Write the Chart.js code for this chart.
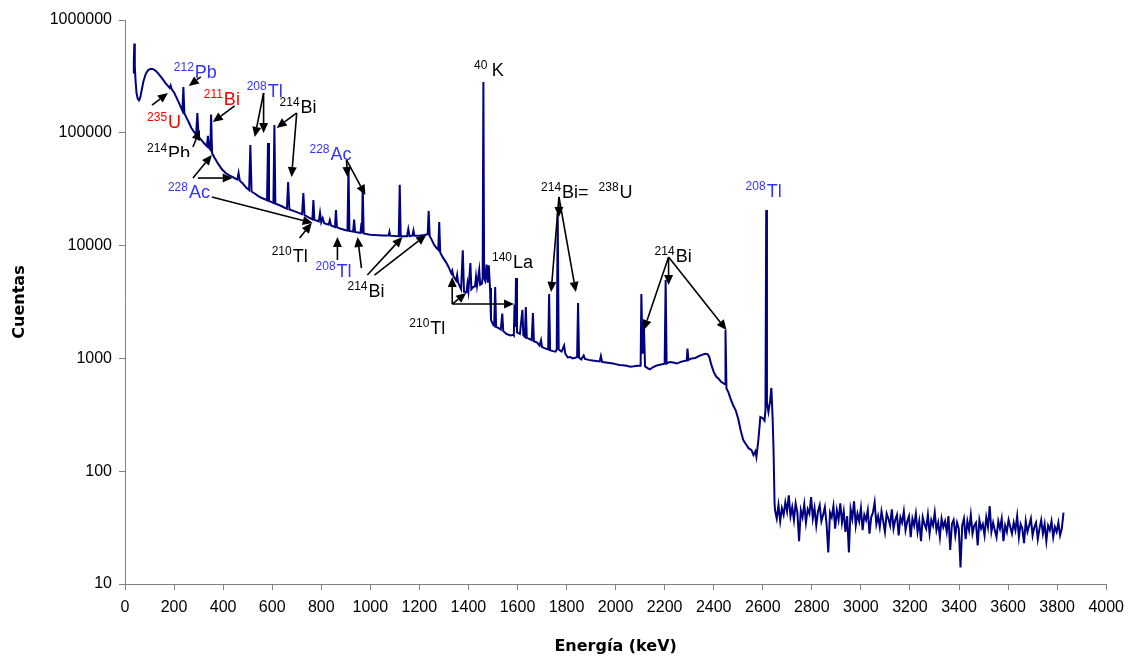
<!DOCTYPE html>
<html lang="es">
<head>
<meta charset="utf-8">
<title>Espectro gamma</title>
<script src="https://cdn.jsdelivr.net/npm/chart.js@4.4.1/dist/chart.umd.min.js"></script>
<style>
    html, body { margin: 0; padding: 0; background: #fff; }
    #espectro { display: block; }
</style>
</head>
<body>
<canvas id="espectro" width="1132" height="658"></canvas>
<script>
// --- Datos del espectro: [energía (keV), cuentas] ---
const tramoBajo = [
    [33, 340000], [36, 430000], [38, 620000], [40, 390000], [43, 290000], [47, 225000],
    [52, 200000], [57, 194000], [62, 205000], [68, 238000], [75, 285000], [85, 335000],
    [95, 360000], [105, 370000], [115, 367000], [125, 355000], [135, 336000], [145, 316000],
    [155, 296000], [165, 276000], [175, 261000], [182, 250000], [186, 262000], [190, 244000],
    [200, 228000], [210, 205000], [220, 184000], [228, 168000], [234, 157000], [238, 255000],
    [242, 149000], [250, 137000], [260, 124000], [270, 111000], [280, 103000], [290, 96000],
    [295, 150000], [300, 92000], [310, 87000], [320, 82000], [330, 77500], [334, 76000],
    [338, 94000], [342, 74000], [348, 71000], [351, 145000], [355, 66000], [365, 60000],
    [380, 53000], [395, 47500], [410, 44000], [425, 42000], [440, 40500], [452, 39000],
    [458, 38500], [463, 44000], [468, 37500], [480, 35500], [495, 32500], [506, 31000],
    [511, 78000], [516, 30200], [530, 28800], [545, 27300], [560, 26300], [575, 25500],
    [579, 25200], [583, 81000], [587, 24900], [600, 24200], [605, 23900], [609, 117000],
    [613, 23600], [630, 22800], [645, 22000], [660, 21200], [665, 36600], [670, 20900],
    [690, 20200], [705, 19600], [722, 19000], [727, 29300], [732, 18600], [750, 17700],
    [764, 17100], [768, 25400], [772, 16900], [786, 16500], [790, 16400], [795, 19500],
    [800, 16100], [806, 17500], [812, 15800], [830, 15300], [835, 16800], [840, 15100],
    [856, 14600], [860, 20700], [864, 14500], [880, 14100], [900, 13700], [907, 13600],
    [911, 49800], [915, 13500], [930, 13300], [934, 17000], [938, 13200], [955, 13000],
    [960, 12950], [964, 15900], [966, 12900], [969, 33700], [973, 12800], [990, 12600],
    [1000, 12500], [1020, 12400], [1050, 12300], [1075, 12300], [1078, 13200], [1081, 12250],
    [1100, 12150], [1116, 12100], [1120, 34700], [1124, 12100], [1150, 12100], [1155, 14000],
    [1160, 12100], [1172, 12300], [1176, 13600], [1180, 12200], [1200, 12200], [1220, 12400],
    [1234, 12600], [1238, 20300], [1242, 12200]
];

const tramoMedio = [
    [1250, 11300], [1260, 10200], [1270, 9500], [1277, 9200], [1281, 16200], [1285, 8700],
    [1295, 7900], [1309, 7100], [1320, 6400], [1330, 5700], [1334, 6000], [1338, 5400],
    [1350, 4900], [1354, 5500], [1358, 4700], [1370, 4100], [1377, 9100], [1382, 3900],
    [1392, 3850], [1396, 4600], [1400, 3950], [1408, 7000], [1412, 4100], [1420, 4300],
    [1427, 4350], [1431, 5300], [1435, 4400], [1444, 6100], [1448, 4500], [1455, 4600],
    [1458, 5200], [1461, 282000], [1464, 5200], [1468, 4900], [1474, 6800], [1478, 4700],
    [1483, 6700], [1488, 4200], [1492, 2200], [1500, 2000], [1505, 1950], [1509, 4300],
    [1513, 1900], [1525, 1850], [1532, 1800], [1538, 2500], [1542, 1750], [1555, 1650],
    [1570, 1600], [1583, 1620], [1585, 1600], [1588, 3000], [1591, 1900], [1594, 5160],
    [1598, 1700], [1610, 1650], [1620, 2700], [1624, 1600], [1630, 1550], [1634, 2850],
    [1638, 1520], [1650, 1480], [1658, 1450], [1663, 2530], [1667, 1420], [1680, 1380],
    [1690, 1300], [1696, 1450], [1700, 1260], [1715, 1220], [1725, 1200], [1729, 3720],
    [1733, 1180], [1745, 1160], [1755, 1150], [1760, 1200], [1764, 19500], [1768, 1200],
    [1780, 1150], [1790, 1300], [1795, 1100], [1805, 1020], [1815, 1030], [1825, 1000],
    [1838, 1020], [1843, 1030], [1847, 3100], [1851, 1020], [1860, 980], [1870, 1060],
    [1875, 990], [1890, 970], [1905, 960], [1920, 950], [1935, 940], [1940, 1050],
    [1945, 930], [1960, 920], [1975, 910], [1990, 900], [2000, 890], [2015, 875],
    [2030, 870], [2045, 860], [2060, 845], [2075, 850], [2090, 860], [2102, 860],
    [2105, 3720], [2110, 1100], [2115, 2100], [2120, 850], [2130, 820], [2140, 800],
    [2150, 830], [2165, 860], [2180, 880], [2195, 890], [2200, 900], [2204, 4960],
    [2208, 900], [2220, 930], [2235, 920], [2250, 900], [2265, 930], [2280, 950],
    [2290, 960], [2293, 1220], [2297, 970], [2310, 1000], [2325, 1010], [2340, 1050],
    [2355, 1080], [2365, 1100], [2375, 1090], [2382, 1030], [2390, 880], [2400, 760],
    [2410, 690], [2420, 660], [2430, 620], [2440, 600], [2446, 590], [2448, 1790],
    [2452, 540], [2460, 500], [2470, 430], [2480, 380], [2490, 345], [2500, 290],
    [2510, 230], [2520, 190], [2530, 175], [2542, 160], [2554, 154], [2562, 139],
    [2570, 150], [2574, 134], [2582, 189], [2590, 302], [2599, 296], [2607, 280],
    [2611, 350], [2614, 20700], [2617, 400], [2623, 335], [2630, 420], [2635, 547],
    [2640, 300], [2644, 150], [2648, 52]
];

// Fondo por encima de 2650 keV, un canal cada 7 keV
const colaInicio = 2650;
const colaPaso = 7;
const colaCuentas = [
    45, 38, 50, 36, 47, 41, 53, 44, 61, 40,
    48, 37, 52, 43, 24, 45, 39, 51, 35, 46,
    42, 59, 38, 47, 33, 44, 50, 36, 41, 48,
    34, 19, 43, 39, 49, 31, 45, 37, 52, 35,
    44, 29, 40, 19, 46, 38, 54, 33, 42, 36,
    47, 30, 41, 37, 45, 28, 39, 43, 53, 34,
    40, 32, 44, 36, 29, 42, 38, 33, 46, 31,
    37, 41, 27, 39, 35, 44, 30, 36, 40, 26,
    38, 33, 42, 29, 36, 24, 39, 34, 31, 41,
    28, 37, 33, 43, 30, 35, 26, 38, 32, 36,
    29, 40, 20, 34, 37, 27, 35, 31, 14, 33,
    38, 25, 36, 30, 41, 28, 33, 35, 22, 37,
    31, 34, 27, 39, 32, 49, 29, 35, 30, 26,
    36, 31, 38, 24, 33, 29, 37, 32, 28, 35,
    30, 40, 26, 34, 31, 23, 36, 29, 33, 38,
    27, 32, 35, 25, 31, 37, 28, 34, 24, 33,
    30, 36, 26, 32, 29, 35, 27, 31, 43
];

const ticksEnergia = [0, 200, 400, 600, 800, 1000, 1200, 1400, 1600, 1800, 2000,
    2200, 2400, 2600, 2800, 3000, 3200, 3400, 3600, 3800, 4000];
const ticksCuentas = [10, 100, 1000, 10000, 100000, 1000000];

// --- Identificación de picos ---
const AZUL = '#3333ff';
const ROJO = '#ff0000';
const NEGRO = '#000000';

// posición del texto en keV y log10(cuentas); '^' marca el número másico
const etiquetas = [
    { e: 199, log: 5.486, color: AZUL, partes: ['^212', 'Pb'] },
    { e: 90, log: 5.043, color: ROJO, partes: ['^235', 'U'] },
    { e: 321, log: 5.246, color: ROJO, partes: ['^211', 'Bi'] },
    { e: 496, log: 5.317, color: AZUL, partes: ['^208', 'Tl'] },
    { e: 630, log: 5.176, color: NEGRO, partes: ['^214', 'Bi'] },
    { e: 90, log: 4.768, color: NEGRO, partes: ['^214', 'Pb'], corte: 4.785 },
    { e: 175, log: 4.422, color: AZUL, partes: ['^228', 'Ac'] },
    { e: 752, log: 4.759, color: AZUL, partes: ['^228', 'Ac'] },
    { e: 598, log: 3.855, color: NEGRO, partes: ['^210', 'Tl'] },
    { e: 777, log: 3.722, color: AZUL, partes: ['^208', 'Tl'] },
    { e: 907, log: 3.544, color: NEGRO, partes: ['^214', 'Bi'] },
    { e: 1423, log: 5.504, color: NEGRO, partes: ['^40 ', 'K'] },
    { e: 1496, log: 3.801, color: NEGRO, partes: ['^140', 'La'] },
    { e: 1159, log: 3.216, color: NEGRO, partes: ['^210', 'Tl'] },
    { e: 1696, log: 4.422, color: NEGRO, partes: ['^214', 'Bi=  ', '^238', 'U'] },
    { e: 2159, log: 3.855, color: NEGRO, partes: ['^214', 'Bi'] },
    { e: 2530, log: 4.431, color: AZUL, partes: ['^208', 'Tl'] }
];

// flechas: [keV origen, log origen, keV punta, log punta]
const flechas = [
    [309, 5.495, 260, 5.415],
    [110, 5.246, 175, 5.353],
    [447, 5.238, 358, 5.096],
    [565, 5.353, 529, 4.963],
    [565, 5.353, 565, 4.998],
    [700, 5.176, 618, 5.043],
    [700, 5.176, 679, 4.608],
    [277, 4.874, 305, 5.025],
    [277, 4.599, 354, 4.803],
    [297, 4.599, 439, 4.599],
    [354, 4.431, 765, 4.200],
    [903, 4.759, 907, 4.608],
    [903, 4.759, 980, 4.449],
    [712, 4.067, 761, 4.200],
    [866, 3.872, 866, 4.076],
    [964, 3.801, 948, 4.076],
    [988, 3.739, 1131, 4.076],
    [1017, 3.739, 1228, 4.094],
    [1334, 3.482, 1334, 3.722],
    [1334, 3.482, 1586, 3.482],
    [1334, 3.482, 1391, 3.580],
    [1769, 4.431, 1737, 3.589],
    [1769, 4.431, 1769, 4.254],
    [1769, 4.431, 1838, 3.589],
    [2216, 3.899, 2115, 3.252],
    [2216, 3.899, 2216, 3.651],
    [2216, 3.899, 2452, 3.252]
];

const puntos = tramoBajo.concat(tramoMedio).map(([e, c]) => ({ x: e, y: c }));
colaCuentas.forEach((c, i) => puntos.push({ x: colaInicio + i * colaPaso, y: c }));

// --- Dibujo de anotaciones ---
function dibujarFlecha(ctx, x1, y1, x2, y2) {
    const ang = Math.atan2(y2 - y1, x2 - x1);
    const largo = 10, ancho = 4.5;
    const bx = x2 - largo * Math.cos(ang);
    const by = y2 - largo * Math.sin(ang);
    ctx.beginPath();
    ctx.moveTo(x1, y1);
    ctx.lineTo(bx, by);
    ctx.stroke();
    ctx.beginPath();
    ctx.moveTo(x2, y2);
    ctx.lineTo(bx + ancho * Math.sin(ang), by - ancho * Math.cos(ang));
    ctx.lineTo(bx - ancho * Math.sin(ang), by + ancho * Math.cos(ang));
    ctx.closePath();
    ctx.fill();
}

function dibujarEtiqueta(ctx, et, x0, yBase, yCorte) {
    ctx.save();
    if (yCorte !== null) {
        // la parte baja de esta etiqueta queda recortada
        ctx.beginPath();
        ctx.rect(0, 0, ctx.canvas.width, yCorte);
        ctx.clip();
    }
    ctx.fillStyle = et.color;
    ctx.textBaseline = 'alphabetic';
    ctx.textAlign = 'left';
    let x = x0;
    et.partes.forEach(p => {
        const sup = p.startsWith('^');
        const texto = sup ? p.slice(1) : p;
        ctx.font = sup ? '12px "Liberation Sans", Arial, sans-serif' : '18px "Liberation Sans", Arial, sans-serif';
        ctx.fillText(texto, x, sup ? yBase - 7 : yBase);
        x += ctx.measureText(texto).width + (sup ? 1 : 0);
    });
    ctx.restore();
}

const anotaciones = {
    id: 'anotaciones',
    afterDatasetsDraw(chart) {
        const { ctx, scales: { x, y } } = chart;
        const px = e => x.getPixelForValue(e);
        const py = l => y.getPixelForValue(Math.pow(10, l));

        ctx.save();
        ctx.strokeStyle = NEGRO;
        ctx.fillStyle = NEGRO;
        ctx.lineWidth = 1.6;
        flechas.forEach(([e1, l1, e2, l2]) => dibujarFlecha(ctx, px(e1), py(l1), px(e2), py(l2)));
        etiquetas.forEach(et => {
            dibujarEtiqueta(ctx, et, px(et.e), py(et.log), et.corte ? py(et.corte) : null);
        });
        ctx.restore();
    },
    afterDraw(chart) {
        const { ctx, chartArea } = chart;
        ctx.save();
        ctx.fillStyle = NEGRO;
        ctx.font = 'bold 16px "DejaVu Sans", sans-serif';
        ctx.textAlign = 'center';
        ctx.textBaseline = 'middle';
        ctx.fillText('Energía (keV)', (chartArea.left + chartArea.right) / 2, 647);
        ctx.translate(20, (chartArea.top + chartArea.bottom) / 2);
        ctx.rotate(-Math.PI / 2);
        ctx.fillText('Cuentas', 0, 0);
        ctx.restore();
    }
};

const fuenteTicks = { family: '"Liberation Sans", Arial, sans-serif', size: 16 };

new Chart(document.getElementById('espectro'), {
    type: 'line',
    data: {
        datasets: [{
            data: puntos,
            borderColor: '#000080',
            borderWidth: 2,
            pointRadius: 0,
            tension: 0,
            fill: false
        }]
    },
    options: {
        responsive: false,
        animation: false,
        devicePixelRatio: 1,
        events: [],
        layout: { padding: { left: 0, right: 23, top: 20, bottom: 0 } },
        plugins: { legend: { display: false }, tooltip: { enabled: false } },
        scales: {
            x: {
                type: 'linear',
                min: 0,
                max: 4000,
                afterBuildTicks: scale => { scale.ticks = ticksEnergia.map(v => ({ value: v })); },
                afterFit: scale => { scale.height = 74; },
                ticks: {
                    autoSkip: false,
                    maxRotation: 0,
                    padding: 8,
                    color: NEGRO,
                    font: fuenteTicks,
                    callback: v => String(v)
                },
                grid: { drawOnChartArea: false, drawTicks: true, tickLength: 6, color: '#808080' },
                border: { color: '#808080', width: 1 }
            },
            y: {
                type: 'logarithmic',
                min: 10,
                max: 1000000,
                afterBuildTicks: scale => { scale.ticks = ticksCuentas.map(v => ({ value: v })); },
                afterFit: scale => { scale.width = 125; },
                ticks: {
                    autoSkip: false,
                    padding: 7,
                    color: NEGRO,
                    font: fuenteTicks,
                    callback: v => String(v)
                },
                grid: { drawOnChartArea: false, drawTicks: true, tickLength: 6, color: '#808080' },
                border: { color: '#808080', width: 1 }
            }
        }
    },
    plugins: [anotaciones]
});
</script>
</body>
</html>
